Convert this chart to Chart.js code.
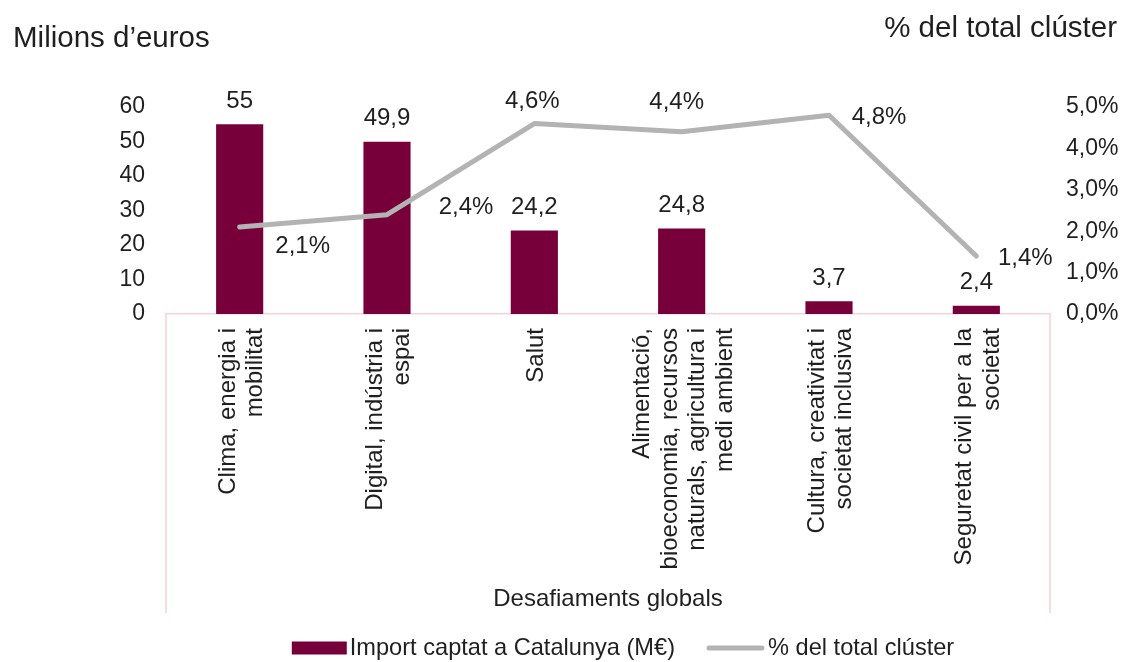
<!DOCTYPE html>
<html>
<head>
<meta charset="utf-8">
<script src="https://cdn.jsdelivr.net/npm/chart.js@4.4.1/dist/chart.umd.min.js"></script>
<style>
html, body { margin: 0; padding: 0; background: #fff; }
#wrap { width: 1127px; height: 662px; position: relative; }
</style>
</head>
<body>
<div id="wrap"><canvas id="myChart"></canvas></div>
<script>
'use strict';
// categories (multi-line, as in the original)
let categories = [
    ['Clima, energia i', 'mobilitat'],
    ['Digital, indústria i', 'espai'],
    ['Salut'],
    ['Alimentació,', 'bioeconomia, recursos', 'naturals, agricultura i', 'medi ambient'],
    ['Cultura, creativitat i', 'societat inclusiva'],
    ['Seguretat civil per a la', 'societat']
];
let importValues = [55, 49.9, 24.2, 24.8, 3.7, 2.4];   // M€
let shareValues = [2.1, 2.4, 4.6, 4.4, 4.8, 1.4];      // %
let leftTicks = [0, 10, 20, 30, 40, 50, 60];
let rightTicks = [0, 1, 2, 3, 4, 5];
let seriesNames = ['Import captat a Catalunya (M€)', '% del total clúster'];

// where each % label sits relative to its point (dx, dy)
let shareLabelOffsets = [[63, 19], [79, -7], [-2, -22], [-5, -29], [50, 2], [49, 2]];

let fontFamily = 'Arial, "Liberation Sans", sans-serif';
let textColor = '#1f1f1f';
let barColor = '#78003A';
let lineColor = '#B3B3B3';
let frameColor = '#F7D3D8';

function fmtNum(v, dec) {
    return v.toFixed(dec).replace('.', ',');
}
function fmtBar(v) {
    return Number.isInteger(v) ? String(v) : fmtNum(v, 1);
}

let extrasPlugin = {
    id: 'extras',
    afterDatasetsDraw(chart) {
        let ctx = chart.ctx;
        ctx.save();
        ctx.font = '24px ' + fontFamily;
        ctx.fillStyle = textColor;
        ctx.textAlign = 'center';
        ctx.textBaseline = 'middle';
        chart.getDatasetMeta(1).data.forEach(function (bar, i) {
            ctx.fillText(fmtBar(importValues[i]), bar.x, bar.y - 23);
        });
        chart.getDatasetMeta(0).data.forEach(function (pt, i) {
            let off = shareLabelOffsets[i];
            ctx.fillText(fmtNum(shareValues[i], 1) + '%', pt.x + off[0], pt.y + off[1]);
        });
        ctx.restore();
    },
    afterDraw(chart) {
        let ctx = chart.ctx;
        let area = chart.chartArea;
        let xs = chart.scales.x;
        ctx.save();
        // frame lines of the category area
        ctx.strokeStyle = frameColor;
        ctx.lineWidth = 1.5;
        ctx.beginPath();
        ctx.moveTo(area.left, area.bottom);
        ctx.lineTo(area.left, xs.bottom - 7);
        ctx.moveTo(area.right, area.bottom);
        ctx.lineTo(area.right, xs.bottom - 7);
        ctx.stroke();

        // rotated category labels, lines centred on each other
        ctx.font = '24px ' + fontFamily;
        ctx.fillStyle = textColor;
        ctx.textAlign = 'right';
        ctx.textBaseline = 'middle';
        let lineH = 27.5;
        categories.forEach(function (lines, i) {
            let cx = xs.getPixelForValue(i);
            lines.forEach(function (txt, j) {
                let off = (j - (lines.length - 1) / 2) * lineH;
                ctx.save();
                ctx.translate(cx + off + 2, area.bottom + 14);
                ctx.rotate(-Math.PI / 2);
                ctx.fillText(txt, 0, 0);
                ctx.restore();
            });
        });

        // legend
        let ly = 648;
        ctx.font = '23.6px ' + fontFamily;
        ctx.textAlign = 'left';
        let w1 = ctx.measureText(seriesNames[0]).width;
        let w2 = ctx.measureText(seriesNames[1]).width;
        let total = 55 + 4 + w1 + 32 + 57 + 5 + w2;
        let lx = 624 - total / 2;
        ctx.fillStyle = barColor;
        ctx.fillRect(lx, ly - 6.5, 55, 13);
        ctx.fillStyle = textColor;
        ctx.fillText(seriesNames[0], lx + 58, ly);
        lx += 58 + w1 + 32;
        ctx.strokeStyle = lineColor;
        ctx.lineWidth = 5;
        ctx.lineCap = 'round';
        ctx.beginPath();
        ctx.moveTo(lx + 2, ly);
        ctx.lineTo(lx + 55, ly);
        ctx.stroke();
        ctx.fillText(seriesNames[1], lx + 61, ly);

        // axis headers
        ctx.font = '29.5px ' + fontFamily;
        ctx.textAlign = 'left';
        ctx.fillText('Milions d’euros', 13, 39);
        ctx.textAlign = 'right';
        ctx.fillText('% del total clúster', 1117, 29);
        ctx.restore();
    }
};

let ctx = document.getElementById('myChart').getContext('2d');
let myChart = new Chart(ctx, {
    type: 'bar',
    data: {
        labels: categories,
        datasets: [{
            type: 'line',
            label: seriesNames[1],
            data: shareValues,
            borderColor: lineColor,
            backgroundColor: lineColor,
            borderWidth: 5,
            borderCapStyle: 'round',
            borderJoinStyle: 'round',
            pointRadius: 0,
            pointHoverRadius: 0,
            tension: 0,
            yAxisID: 'y1'
        }, {
            type: 'bar',
            label: seriesNames[0],
            data: importValues,
            backgroundColor: barColor,
            borderWidth: 0,
            barPercentage: 0.32,
            categoryPercentage: 1,
            yAxisID: 'y'
        }]
    },
    options: {
        responsive: true,
        maintainAspectRatio: false,
        animation: false,
        layout: { padding: { top: 107, left: 0, right: 0, bottom: 42 } },
        plugins: {
            tooltip: { enabled: false },
            legend: { display: false }
        },
        scales: {
            x: {
                grid: { display: false },
                border: { color: frameColor, width: 1.5 },
                ticks: { display: false },
                title: {
                    display: true,
                    text: 'Desafiaments globals',
                    color: textColor,
                    font: { size: 24, family: fontFamily },
                    padding: { top: 0, bottom: 6 }
                },
                afterFit: function (scale) { scale.height = 306; }
            },
            y: {
                position: 'left',
                min: leftTicks[0],
                max: leftTicks[leftTicks.length - 1],
                grid: { display: false, drawTicks: false },
                border: { display: false },
                ticks: {
                    stepSize: leftTicks[1] - leftTicks[0],
                    padding: 21,
                    color: textColor,
                    font: { size: 23, family: fontFamily }
                },
                afterFit: function (scale) { scale.width = 166; }
            },
            y1: {
                position: 'right',
                min: rightTicks[0],
                max: rightTicks[rightTicks.length - 1],
                grid: { display: false, drawTicks: false },
                border: { display: false },
                ticks: {
                    stepSize: rightTicks[1] - rightTicks[0],
                    padding: 16,
                    color: textColor,
                    font: { size: 23, family: fontFamily },
                    callback: function (v) { return fmtNum(v, 1) + '%'; }
                },
                afterFit: function (scale) { scale.width = 77; }
            }
        }
    },
    plugins: [extrasPlugin]
});
</script>
</body>
</html>
